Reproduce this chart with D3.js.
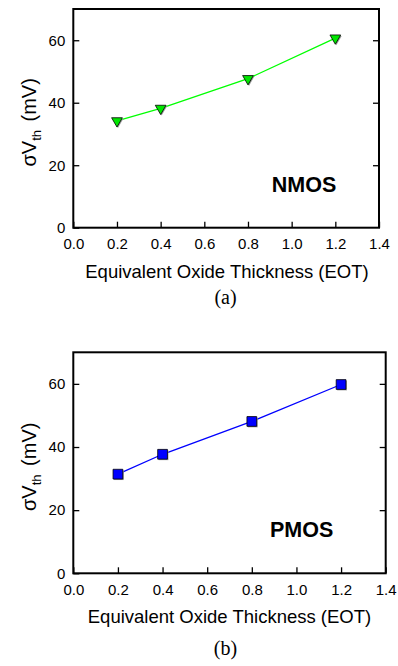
<!DOCTYPE html>
<html><head><meta charset="utf-8">
<script src="https://cdn.jsdelivr.net/npm/d3@7"></script>
<style>body{margin:0;background:#fff}svg{display:block}</style>
</head><body>
<svg id="c" width="398" height="666"></svg>
<script>
const eot = [0.2, 0.4, 0.8, 1.2];
const nmosVth = [34.2, 38.2, 47.7, 60.7];
const pmosVth = [31.4, 37.7, 48.1, 59.8];
const xTicks = [0, 0.2, 0.4, 0.6, 0.8, 1.0, 1.2, 1.4];
const yTicks = [0, 20, 40, 60];

const svg = d3.select("#c");
const font = "'Liberation Sans', Arial, sans-serif";

function panel(cfg) {
  const g = svg.append("g");
  const x = d3.scaleLinear().domain([0, 1.4]).range([cfg.left, cfg.right]);
  const y = d3.scaleLinear().domain([0, 70]).range([cfg.bottom, cfg.top]);
  const line = d3.line().x((d, i) => x(eot[i])).y(d => y(d));
  g.append("path").datum(cfg.values).attr("d", line)
    .attr("fill", "none").attr("stroke", cfg.lineColor).attr("stroke-width", 1.3);
  const sym = d3.symbol().type(cfg.symbol).size(cfg.symSize);
  const pts = g.selectAll("g.pt").data(cfg.values).enter().append("g")
    .attr("transform", (d, i) => `translate(${x(eot[i])},${y(d)})${cfg.rot ? " rotate(180)" : ""}`);
  pts.append("path").attr("d", sym()).attr("fill", "#9a9a9a")
    .attr("transform", cfg.rot ? "translate(-1,-1)" : "translate(1,1)");
  pts.append("path").attr("d", sym()).attr("fill", cfg.fill).attr("stroke", "#000").attr("stroke-width", 0.8);

  const xa = d3.axisBottom(x).tickValues(xTicks).tickSize(-6).tickPadding(11).tickFormat(d3.format(".1f"));
  const ya = d3.axisLeft(y).tickValues(yTicks).tickSize(-6).tickPadding(8).tickFormat(d3.format("d"));
  const yr = d3.axisRight(y).tickValues(yTicks.slice(1)).tickSize(-6).tickFormat("");
  const xt = g.append("g").attr("transform", `translate(0,${cfg.bottom})`).call(xa);
  const yt = g.append("g").attr("transform", `translate(${cfg.left},0)`).call(ya);
  const yrt = g.append("g").attr("transform", `translate(${cfg.right},0)`).call(yr);
  [xt, yt, yrt].forEach(a => {
    a.select(".domain").remove();
    a.selectAll("line").attr("stroke", "#000").attr("stroke-width", 1.3);
    a.selectAll("text").attr("font-family", font).attr("font-size", 15).attr("fill", "#000");
  });
  xt.selectAll("text").attr("dy", "0.71em");
  g.append("rect").attr("x", cfg.left).attr("y", cfg.top)
    .attr("width", cfg.right - cfg.left).attr("height", cfg.bottom - cfg.top)
    .attr("fill", "none").attr("stroke", "#000").attr("stroke-width", 2);

  g.append("text").attr("x", cfg.xLabelX).attr("y", cfg.xLabelY)
    .attr("text-anchor", "middle").attr("font-family", font).attr("font-size", 18.5)
    .text("Equivalent Oxide Thickness (EOT)");
  const yl = g.append("text").attr("transform", `translate(35.5,${(cfg.top + cfg.bottom) / 2 + 4}) rotate(-90)`)
    .attr("text-anchor", "middle").attr("font-family", font).attr("font-size", 20);
  yl.append("tspan").text("σV");
  yl.append("tspan").attr("font-size", 13).attr("dy", 5).text("th");
  yl.append("tspan").attr("dy", -5).attr("dx", 3).text(" (mV)");
  g.append("text").attr("x", cfg.tagX).attr("y", cfg.tagY).attr("text-anchor", "middle")
    .attr("font-family", font).attr("font-weight", "bold").attr("font-size", 21.5).text(cfg.tag);
  g.append("text").attr("x", 225.5).attr("y", cfg.capY).attr("text-anchor", "middle")
    .attr("font-family", "'Liberation Serif', 'Times New Roman', serif").attr("font-size", 20).text(cfg.caption);
}

panel({left: 73.3, right: 379, top: 9, bottom: 227.7, values: nmosVth,
  lineColor: "#00ff00", fill: "#00e600", symbol: d3.symbolTriangle, symSize: 50, rot: true,
  xLabelX: 227, xLabelY: 278, tag: "NMOS", tagX: 304, tagY: 191.5, caption: "(a)", capY: 304});
panel({left: 73.3, right: 385.7, top: 352.3, bottom: 573.3, values: pmosVth,
  lineColor: "#0000ff", fill: "#0000ff", symbol: d3.symbolSquare, symSize: 95, rot: false,
  xLabelX: 229.5, xLabelY: 623.3, tag: "PMOS", tagX: 301.7, tagY: 536.7, caption: "(b)", capY: 655});
</script>
</body></html>
